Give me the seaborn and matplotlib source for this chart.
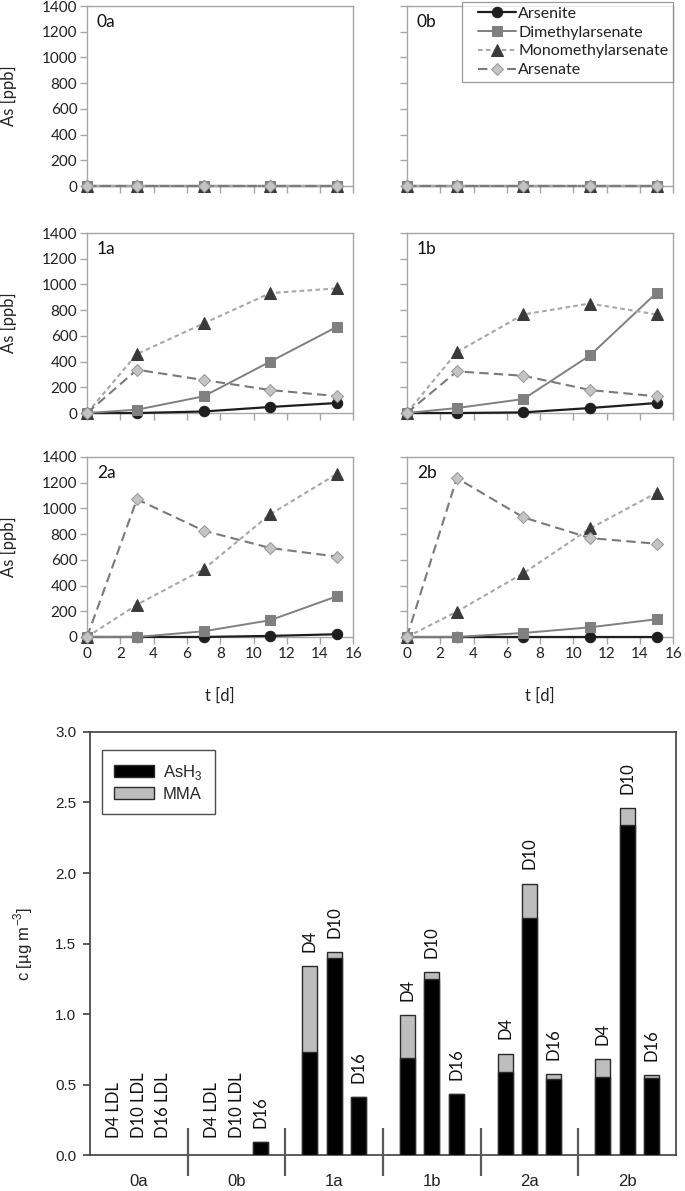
import pandas as pd
import matplotlib
matplotlib.use('Agg')
import matplotlib.pyplot as plt
import matplotlib.patches as mpatches
from matplotlib.lines import Line2D
from matplotlib.legend_handler import HandlerLine2D
import seaborn as sns

# ---- data: arsenic species in solution (ppb) ----
days = [0, 3, 7, 11, 15]
panels = ['0a', '0b', '1a', '1b', '2a', '2b']

arsenite = {'0a': [0, 0, 0, 0, 0], '0b': [0, 0, 0, 0, 0],
            '1a': [0, 0, 12, 47, 78], '1b': [0, 0, 5, 39, 78],
            '2a': [0, 0, 0, 8, 21], '2b': [0, 0, 0, 0, 0]}
dimethyl = {'0a': [0, 0, 0, 0, 0], '0b': [0, 0, 0, 0, 0],
            '1a': [0, 26, 130, 400, 670], '1b': [0, 39, 109, 449, 936],
            '2a': [0, 0, 44, 130, 316], '2b': [0, 0, 31, 75, 138]}
monomethyl = {'0a': [0, 0, 0, 0, 0], '0b': [0, 0, 0, 0, 0],
              '1a': [0, 459, 697, 933, 970], '1b': [0, 474, 767, 852, 767],
              '2a': [0, 251, 526, 954, 1268], '2b': [0, 197, 496, 844, 1122]}
arsenate = {'0a': [0, 0, 0, 0, 0], '0b': [0, 0, 0, 0, 0],
            '1a': [0, 337, 257, 179, 132], '1b': [0, 324, 290, 179, 130],
            '2a': [0, 1071, 827, 692, 625], '2b': [0, 1236, 930, 769, 725]}

# ---- data: gas phase (ug m-3) ----
groups = ['0a', '0b', '1a', '1b', '2a', '2b']
sample_days = ['D4', 'D10', 'D16']
ash3 = [[0, 0, 0], [0, 0, 0.09], [0.73, 1.40, 0.41],
        [0.69, 1.25, 0.43], [0.59, 1.68, 0.54], [0.55, 2.34, 0.545]]
mma = [[0, 0, 0], [0, 0, 0], [0.61, 0.04, 0],
       [0.30, 0.05, 0], [0.13, 0.245, 0.035], [0.13, 0.12, 0.02]]
below_ldl = [[True, True, True], [True, True, False], [False, False, False],
             [False, False, False], [False, False, False], [False, False, False]]

sns.set_style('ticks')
plt.rcParams['font.family'] = ['Lato', 'DejaVu Sans']

fig = plt.figure(figsize=(6.85, 11.91), dpi=100)

series = [
    ('Arsenite', arsenite, dict(color='#1e1e1e', marker='o', markersize=7.5,
                                markerfacecolor='#1e1e1e', markeredgecolor='#1e1e1e',
                                linestyle='-', linewidth=1.6)),
    ('Dimethylarsenate', dimethyl, dict(color='#808080', marker='s', markersize=7.5,
                                        markerfacecolor='#808080', markeredgecolor='#808080',
                                        linestyle='-', linewidth=1.4)),
    ('Monomethylarsenate', monomethyl, dict(color='#a8a8a8', marker='^', markersize=8,
                                            markerfacecolor='#3a3a3a', markeredgecolor='#3a3a3a',
                                            linestyle=(0, (2.2, 1.6)), linewidth=1.5)),
    ('Arsenate', arsenate, dict(color='#7a7a7a', marker='D', markersize=6.5,
                                markerfacecolor='#c4c4c4', markeredgecolor='#9a9a9a',
                                linestyle=(0, (4.5, 2.5)), linewidth=1.5)),
]

lefts = [0.127, 0.594]
bottoms = [0.8438, 0.6532, 0.4652]
frame_c = '#a6a6a6'
txt_c = '#222222'

for i, p in enumerate(panels):
    row, col = divmod(i, 2)
    ax = fig.add_axes([lefts[col], bottoms[row], 0.389, 0.1511])
    for name, data, kw in series:
        sns.lineplot(x=days, y=data[p], ax=ax, label=name, legend=False,
                     clip_on=False, zorder=3, **kw)
    ax.set_xlim(0, 16)
    ax.set_ylim(0, 1400)
    ax.set_xticks(range(0, 17, 2))
    ax.set_yticks(range(0, 1401, 200))
    for s in ax.spines.values():
        s.set_color(frame_c)
        s.set_linewidth(1.0)
    ax.tick_params(direction='out', length=5, width=1, color=frame_c,
                   labelsize=11, labelcolor=txt_c, pad=2)
    if col == 1:
        ax.set_yticklabels([])
    else:
        ax.set_ylabel('As [ppb]', fontsize=12, color=txt_c)
        ax.yaxis.set_label_coords(-0.262, 0.5)
    if row < 2:
        ax.set_xticklabels([])
    else:
        ax.set_xlabel('t [d]', fontsize=12, color=txt_c)
        ax.xaxis.set_label_coords(0.5, -0.28)
    ax.text(0.037, 0.955, p, transform=ax.transAxes, va='top', ha='left',
            fontsize=12.5, color='#111111')
    if p == '0b':
        leg = ax.legend(loc='upper right', bbox_to_anchor=(1.0, 1.025),
                        borderaxespad=0, fontsize=11.5, frameon=True, fancybox=False,
                        handlelength=3.1, handletextpad=0.15, labelspacing=0.3,
                        borderpad=0.3, numpoints=1,
                        handler_map={Line2D: HandlerLine2D(xpad=0.7)})
        leg.get_frame().set_edgecolor('#808080')
        leg.get_frame().set_linewidth(0.9)
        for t in leg.get_texts():
            t.set_color(txt_c)

# ---- bar chart ----
rows = []
for g, grp in enumerate(groups):
    for j, d in enumerate(sample_days):
        rows.append(dict(group=grp, day=d, pos=3 * g + 0.75 * (j + 1),
                         ash3=ash3[g][j], mma=mma[g][j],
                         total=ash3[g][j] + mma[g][j], ldl=below_ldl[g][j]))
bars = pd.DataFrame(rows)
shown = bars[~bars['ldl']]

axb = fig.add_axes([0.1314, 0.0302, 0.8555, 0.3552])
edge = '#2a2a2a'
sns.barplot(data=shown, x='pos', y='total', native_scale=True, width=0.613,
            color='#bebebe', saturation=1, edgecolor=edge, linewidth=1,
            errorbar=None, ax=axb, zorder=2)
sns.barplot(data=shown, x='pos', y='ash3', native_scale=True, width=0.613,
            color='#000000', saturation=1, edgecolor=edge, linewidth=1,
            errorbar=None, ax=axb, zorder=3)
axb.set_xlim(0, 18)
axb.set_ylim(0, 3.0)

for _, r in bars.iterrows():
    if r['ldl']:
        axb.text(r['pos'], 0.12, r['day'] + ' LDL', rotation=90, ha='center',
                 va='bottom', fontsize=12, color='#111111')
    else:
        axb.text(r['pos'], r['total'] + 0.1, r['day'], rotation=90, ha='center',
                 va='bottom', fontsize=12, color='#111111')

axb.vlines([3, 6, 9, 12, 15], -0.15, 0.19, colors='#5a5a5a', linewidth=1.6,
           clip_on=False, zorder=4)

bar_font = ['Liberation Sans', 'DejaVu Sans']
axb.set_xticks([1.5 + 3 * g for g in range(len(groups))])
axb.set_xticklabels(groups, fontsize=12, family=bar_font)
axb.tick_params(axis='x', length=0, pad=14, labelcolor=txt_c)
axb.set_yticks([0, 0.5, 1.0, 1.5, 2.0, 2.5, 3.0])
axb.set_yticklabels(['%.1f' % v for v in [0, 0.5, 1.0, 1.5, 2.0, 2.5, 3.0]],
                    fontsize=11, family=bar_font)
axb.tick_params(axis='y', direction='out', length=5, width=1.2, color='#404040',
                pad=5, labelcolor=txt_c)
for s in axb.spines.values():
    s.set_color('#404040')
    s.set_linewidth(1.2)
axb.set_xlabel('')
axb.set_ylabel(r'c [µg m$^{\mathregular{-3}}$]', fontsize=12, family=bar_font,
               color=txt_c)
axb.yaxis.set_label_coords(-0.094, 0.5)

handles = [mpatches.Patch(facecolor='#000000', edgecolor=edge, linewidth=1,
                          label=r'AsH$_{\mathregular{3}}$'),
           mpatches.Patch(facecolor='#bebebe', edgecolor=edge, linewidth=1,
                          label='MMA')]
legb = axb.legend(handles=handles, loc='upper left', bbox_to_anchor=(0.02, 0.957),
                  borderaxespad=0, fancybox=False, frameon=True,
                  prop={'family': bar_font, 'size': 12},
                  handlelength=2.4, handleheight=0.8, handletextpad=0.5,
                  labelspacing=0.3, borderpad=0.75)
legb.get_frame().set_edgecolor('#222222')
legb.get_frame().set_linewidth(1.0)

fig.savefig('out.png', dpi=100)
